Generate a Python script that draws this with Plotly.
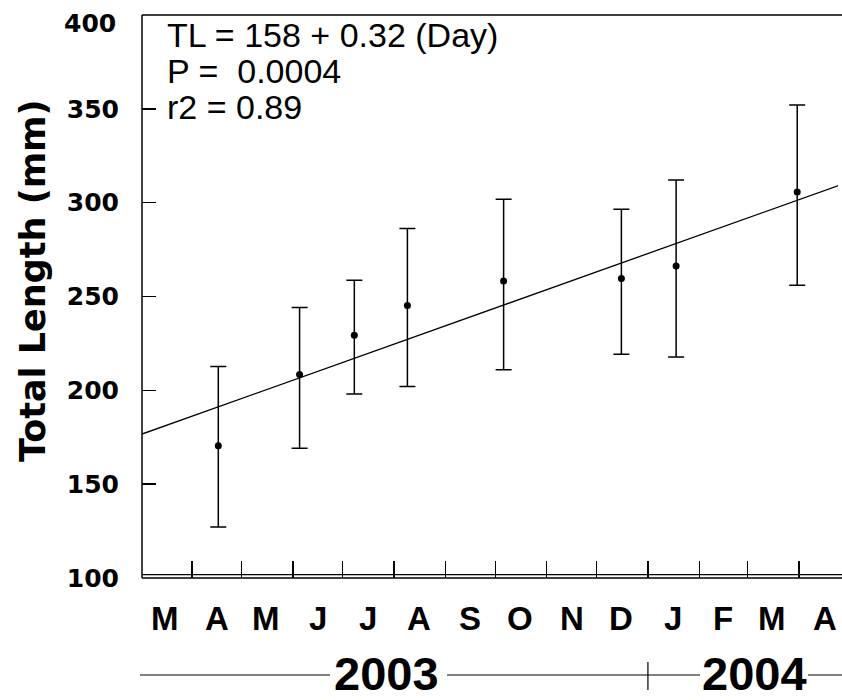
import plotly.graph_objects as go

# ---- data ----
sample_dates = ["2003-04-17", "2003-06-05", "2003-07-08", "2003-08-09",
                "2003-10-06", "2003-12-16", "2004-01-18", "2004-03-31"]
mean_tl = [170.5, 208.4, 229.4, 245.2, 258.2, 259.6, 266.2, 305.7]
upper_tl = [212.7, 244.2, 258.6, 286.2, 301.8, 296.5, 312.1, 352.0]
lower_tl = [127.2, 169.2, 198.1, 202.0, 211.0, 219.2, 217.8, 256.0]

fit_dates = ["2003-03-02", "2004-04-27"]
fit_tl = [176.7, 309.8]
x_range = ["2003-03-02", "2004-04-27"]

month_ticks = ["2003-04-01", "2003-05-01", "2003-06-01", "2003-07-01", "2003-08-01",
               "2003-09-01", "2003-10-01", "2003-11-01", "2003-12-01", "2004-01-01",
               "2004-02-01", "2004-03-01", "2004-04-01"]
month_label_dates = ["2003-03-16", "2003-04-16", "2003-05-16", "2003-06-16", "2003-07-16",
                     "2003-08-16", "2003-09-16", "2003-10-16", "2003-11-16", "2003-12-16",
                     "2004-01-16", "2004-02-15", "2004-03-16", "2004-04-17"]
month_labels = ["M", "A", "M", "J", "J", "A", "S", "O", "N", "D", "J", "F", "M", "A"]
y_ticks = [100, 150, 200, 250, 300, 350, 400]
y_ticktext = ["100", "150", "200", "250", "300", "350", ""]
top_label = "400"
stats_lines = ["TL = 158 + 0.32 (Day)", "P =\u00a0 0.0004", "r2 = 0.89"]
years = ["2003", "2004"]
year_starts = ["2003-03-01", "2004-01-01"]

# ---- layout geometry (pixels) ----
W, H = 842, 700
L, R, T, B = 142, 0, 15, 122
PW, PH = W - L - R, H - T - B


def px(xp):
    return (xp - L) / PW


def py(yp):
    return (H - B - yp) / PH


BOLD_SANS = "DejaVu Sans"
ARIAL = "Liberation Sans, Arial"

fig = go.Figure()

fig.add_trace(go.Scatter(
    x=fit_dates, y=fit_tl, mode="lines",
    line=dict(color="black", width=1.3), showlegend=False, hoverinfo="skip"))

fig.add_trace(go.Scatter(
    x=sample_dates, y=mean_tl, mode="markers",
    marker=dict(color="black", size=7),
    error_y=dict(type="data", symmetric=False,
                 array=[u - m for u, m in zip(upper_tl, mean_tl)],
                 arrayminus=[m - l for m, l in zip(mean_tl, lower_tl)],
                 color="black", thickness=1.5, width=8),
    showlegend=False))

annotations = []
for d, lab in zip(month_label_dates, month_labels):
    annotations.append(dict(x=d, xref="x", y=py(618), yref="paper", text=lab,
                            showarrow=False, xanchor="center", yanchor="middle",
                            font=dict(family=ARIAL, size=33, color="black", weight=700)))

for i, (line, yp) in enumerate(zip(stats_lines, [35, 71, 107])):
    annotations.append(dict(x=px(165), xref="paper", y=py(yp), yref="paper", text=line,
                            showarrow=False, xanchor="left", yanchor="middle",
                            font=dict(family=ARIAL, size=34, color="black")))

for yr, xc in zip(years, [386.7, 754.7]):
    annotations.append(dict(x=px(xc), xref="paper", y=py(673), yref="paper", text=yr,
                            showarrow=False, xanchor="center", yanchor="middle",
                            font=dict(family=ARIAL, size=47, color="black", weight=700)))

annotations.append(dict(x=px(118), xref="paper", y=py(23), yref="paper", text=top_label,
                        showarrow=False, xanchor="right", yanchor="middle",
                        font=dict(family=BOLD_SANS, size=25, color="black", weight=700)))

annotations.append(dict(x=px(33), xref="paper", y=py(281), yref="paper",
                        text="Total Length (mm)", textangle=-90, showarrow=False,
                        xanchor="center", yanchor="middle",
                        font=dict(family=BOLD_SANS, size=35, color="black", weight=700)))

shapes = []
# white mask over the right page edge (the frame is open on the right)
shapes.append(dict(type="rect", xref="paper", yref="paper", x0=px(838), x1=px(850),
                   y0=-0.02, y1=1.02, fillcolor="white", line=dict(width=0),
                   layer="above"))
frame = dict(color="black", width=1.5)
shapes.append(dict(type="line", xref="paper", yref="paper", x0=0, x1=0,
                   y0=0, y1=1, line=frame))
shapes.append(dict(type="line", xref="paper", yref="paper", x0=0, x1=1.02,
                   y0=0, y1=0, line=frame))
shapes.append(dict(type="line", xref="paper", yref="paper", x0=0, x1=1.02,
                   y0=1, y1=1, line=frame))
shapes.append(dict(type="line", xref="paper", yref="paper", x0=0, x1=1.02,
                   y0=py(574.6), y1=py(574.6), line=dict(color="black", width=1.3)))
for x0, x1 in [(140, 330), (447, 700), (808, 850)]:
    shapes.append(dict(type="line", xref="paper", yref="paper", x0=px(x0), x1=px(x1),
                       y0=py(675), y1=py(675), line=dict(color="black", width=1.2)))
for d in year_starts:
    shapes.append(dict(type="line", xref="x", yref="paper", x0=d, x1=d,
                       y0=py(662), y1=py(690), line=dict(color="black", width=1.2)))

fig.update_layout(
    width=W, height=H,
    margin=dict(l=L, r=R, t=T, b=B, autoexpand=False),
    paper_bgcolor="white", plot_bgcolor="white",
    annotations=annotations, shapes=shapes,
    xaxis=dict(type="date", range=x_range, tickvals=month_ticks,
               showticklabels=False, ticks="inside", ticklen=17, tickwidth=1.5,
               tickcolor="black", showline=False,
               mirror=False, showgrid=False, zeroline=False),
    yaxis=dict(range=[100, 400], tickvals=y_ticks, ticktext=y_ticktext,
               ticks="inside", ticklen=14,
               tickwidth=1.5, tickcolor="black", showline=False,
               mirror=False, showgrid=False, zeroline=False,
               ticklabelstandoff=22,
               tickfont=dict(family=BOLD_SANS, size=25, color="black", weight=700)),
)

fig.write_html("out.html", config={"staticPlot": True, "displayModeBar": False})
